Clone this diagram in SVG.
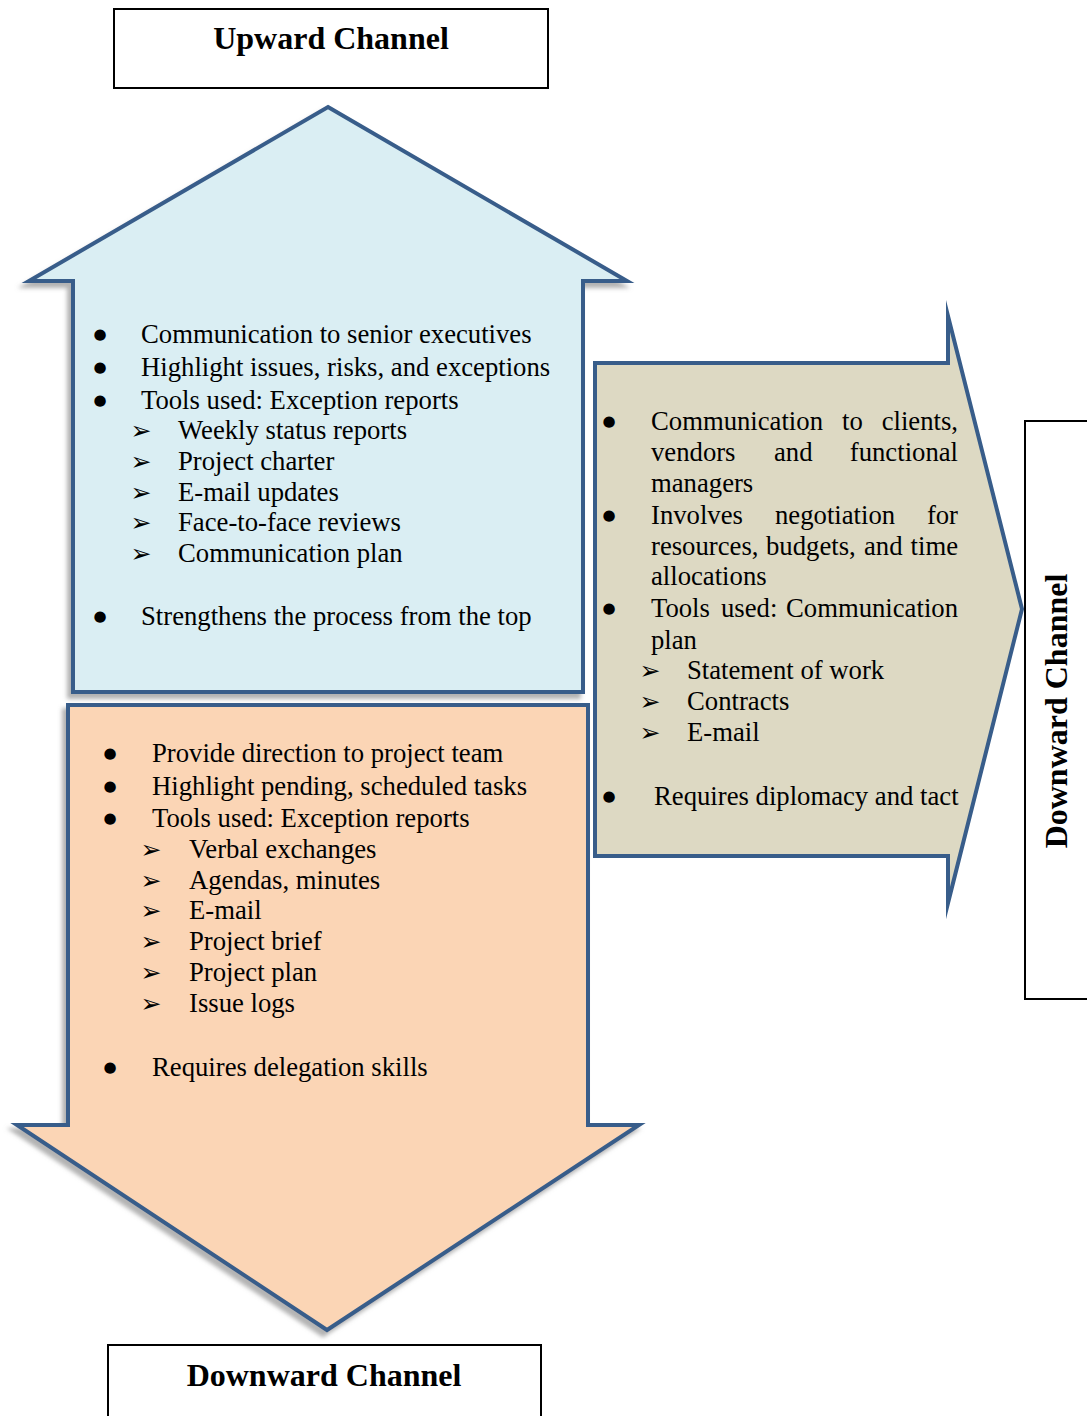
<svg xmlns="http://www.w3.org/2000/svg" width="1087" height="1416" viewBox="0 0 1087 1416">
  <style>
    .arrow { stroke: #385D8A; stroke-width: 4; stroke-miterlimit: 10; }
    .up { fill: #DAEEF3; }
    .down { fill: #FBD5B5; }
    .side { fill: #DDD9C3; }
    .label-box { fill: #FFFFFF; stroke: #000000; stroke-width: 2; }
    .title { font-family: "Liberation Serif", "Times New Roman", serif; font-weight: bold; font-size: 32px; fill: #000; }
    .body { font-family: "Liberation Serif", "Times New Roman", serif; font-size: 26.7px; fill: #000; }
    .dot { font-family: "DejaVu Sans", sans-serif; font-size: 15px; fill: #000; text-anchor: middle; }
    .tri { font-family: "DejaVu Sans", sans-serif; font-size: 25px; fill: #000; text-anchor: middle; }
  </style>
  <defs>
    <filter id="soft-shadow" x="-10%" y="-10%" width="120%" height="120%">
      <feOffset in="SourceAlpha" dx="-4" dy="5" result="off"/>
      <feGaussianBlur in="off" stdDeviation="2" result="blur"/>
      <feFlood flood-color="#808080" flood-opacity="0.6"/>
      <feComposite in2="blur" operator="in" result="shadow"/>
      <feMerge>
        <feMergeNode in="shadow"/>
        <feMergeNode in="SourceGraphic"/>
      </feMerge>
    </filter>
  </defs>

  <!-- Upward channel arrow -->
  <g id="upward-arrow">
    <polygon class="arrow up" filter="url(#soft-shadow)" points="328,107 627,281 583,281 583,692 73,692 73,281 29,281"/>
    <g class="dot">
      <text x="100" y="339">●</text>
      <text x="100" y="372">●</text>
      <text x="100" y="405">●</text>
      <text x="100" y="621">●</text>
    </g>
    <g class="tri">
      <text x="141" y="439">➢</text>
      <text x="141" y="470">➢</text>
      <text x="141" y="501">➢</text>
      <text x="141" y="531">➢</text>
      <text x="141" y="562">➢</text>
    </g>
    <g class="body">
      <text x="141" y="343">Communication to senior executives</text>
      <text x="141" y="376">Highlight issues, risks, and exceptions</text>
      <text x="141" y="409">Tools used: Exception reports</text>
      <text x="178" y="439">Weekly status reports</text>
      <text x="178" y="470">Project charter</text>
      <text x="178" y="501">E-mail updates</text>
      <text x="178" y="531">Face-to-face reviews</text>
      <text x="178" y="562">Communication plan</text>
      <text x="141" y="625">Strengthens the process from the top</text>
    </g>
  </g>

  <!-- Downward channel arrow -->
  <g id="downward-arrow">
    <polygon class="arrow down" filter="url(#soft-shadow)" points="68,705 588,705 588,1125 639,1125 327,1330 17,1125 68,1125"/>
    <g class="dot">
      <text x="110" y="758">●</text>
      <text x="110" y="791">●</text>
      <text x="110" y="823">●</text>
      <text x="110" y="1072">●</text>
    </g>
    <g class="tri">
      <text x="151" y="858">➢</text>
      <text x="151" y="889">➢</text>
      <text x="151" y="919">➢</text>
      <text x="151" y="950">➢</text>
      <text x="151" y="981">➢</text>
      <text x="151" y="1012">➢</text>
    </g>
    <g class="body">
      <text x="152" y="762">Provide direction to project team</text>
      <text x="152" y="795">Highlight pending, scheduled tasks</text>
      <text x="152" y="827">Tools used: Exception reports</text>
      <text x="189" y="858">Verbal exchanges</text>
      <text x="189" y="889">Agendas, minutes</text>
      <text x="189" y="919">E-mail</text>
      <text x="189" y="950">Project brief</text>
      <text x="189" y="981">Project plan</text>
      <text x="189" y="1012">Issue logs</text>
      <text x="152" y="1076">Requires delegation skills</text>
    </g>
  </g>

  <!-- Lateral channel arrow -->
  <g id="lateral-arrow">
    <polygon class="arrow side" points="595,363 948,363 948,316 1022,609 948,903 948,856 595,856"/>
    <g class="dot">
      <text x="609" y="426">●</text>
      <text x="609" y="520">●</text>
      <text x="609" y="613">●</text>
      <text x="609" y="801">●</text>
    </g>
    <g class="tri">
      <text x="650" y="679">➢</text>
      <text x="650" y="710">➢</text>
      <text x="650" y="741">➢</text>
    </g>
    <g class="body">
      <text y="430"><tspan x="651">Communication</tspan><tspan x="842">to</tspan><tspan x="958" text-anchor="end">clients,</tspan></text>
      <text y="461"><tspan x="651">vendors</tspan><tspan x="774">and</tspan><tspan x="958" text-anchor="end">functional</tspan></text>
      <text x="651" y="492">managers</text>
      <text y="524"><tspan x="651">Involves</tspan><tspan x="775">negotiation</tspan><tspan x="958" text-anchor="end">for</tspan></text>
      <text y="555"><tspan x="651">resources,</tspan><tspan x="766">budgets,</tspan><tspan x="864">and</tspan><tspan x="958" text-anchor="end">time</tspan></text>
      <text x="651" y="585">allocations</text>
      <text y="617"><tspan x="651">Tools</tspan><tspan x="721">used:</tspan><tspan x="958" text-anchor="end">Communication</tspan></text>
      <text x="651" y="649">plan</text>
      <text x="687" y="679">Statement of work</text>
      <text x="687" y="710">Contracts</text>
      <text x="687" y="741">E-mail</text>
      <text x="654" y="805">Requires diplomacy and tact</text>
    </g>
  </g>

  <!-- Channel labels -->
  <g id="label-upward">
    <rect class="label-box" x="114" y="9" width="434" height="79"/>
    <text class="title" x="331" y="49" text-anchor="middle">Upward Channel</text>
  </g>
  <g id="label-downward-bottom">
    <rect class="label-box" x="108" y="1345" width="433" height="90"/>
    <text class="title" x="324" y="1386" text-anchor="middle">Downward Channel</text>
  </g>
  <g id="label-downward-side">
    <rect class="label-box" x="1025" y="421" width="80" height="578"/>
    <text class="title" transform="translate(1067,711) rotate(-90)" text-anchor="middle">Downward Channel</text>
  </g>

  <!-- Flow is carried by the block arrows; no separate connector lines -->
  <g id="connectors"/>
</svg>
